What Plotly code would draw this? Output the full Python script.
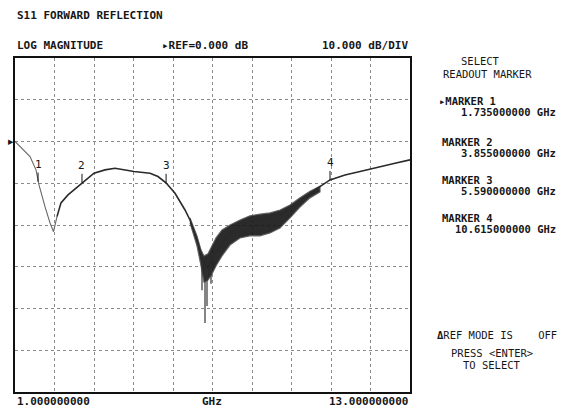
import plotly.graph_objects as go

# ---- data ----
trace_ghz = [1.000, 1.456, 1.638, 1.729, 1.911, 2.063, 2.170, 2.276, 2.397, 2.610,
             3.035, 3.400, 3.734, 4.038, 4.615, 5.101, 5.344, 5.587, 5.861, 6.165,
             6.316, 6.529, 6.711, 6.802, 6.924, 7.076, 7.228, 7.380, 7.684, 7.987,
             8.291, 8.595, 9.051, 9.506, 9.810, 10.114, 10.570, 11.025, 11.481,
             12.089, 12.544, 13.000]
trace_db = [0.0, -3.6, -6.8, -10.4, -15.6, -19.5, -21.6, -18.0, -14.7, -12.8,
            -9.9, -7.6, -6.8, -6.4, -7.2, -7.6, -8.4, -9.9, -12.4, -16.4,
            -18.8, -23.6, -28.4, -29.8, -29.1, -26.7, -25.2, -22.8, -21.2, -19.5,
            -18.8, -18.3, -17.6, -15.6, -13.5, -11.6, -9.2, -8.0, -7.2,
            -6.0, -5.2, -4.4]
faint_points = 8  # first points of the sweep are drawn fainter

# noisy band (upper / lower envelope) in the 6.3 - 10.3 GHz region
band_ghz = [6.316, 6.529, 6.651, 6.742, 6.863, 6.985, 7.106, 7.289, 7.532, 7.836,
            8.139, 8.443, 8.747, 9.051, 9.354, 9.658, 9.962, 10.266]
band_upper_db = [-18.3, -22.6, -26.0, -27.4, -26.9, -24.8, -23.1, -21.2, -20.0, -18.8,
                 -17.8, -17.4, -17.1, -16.4, -15.2, -13.5, -11.9, -10.7]
band_lower_db = [-19.5, -25.0, -29.8, -33.7, -33.2, -31.7, -29.8, -27.4, -24.8, -23.1,
                 -22.6, -22.6, -21.9, -20.7, -18.3, -15.7, -13.5, -12.1]

# deep spikes near the minimum
spike_ghz = [6.681, 6.772, 6.833, 6.954]
spike_top_db = [-29.0, -30.8, -30.5, -30.0]
spike_bottom_db = [-35.6, -43.5, -39.4, -34.1]

# markers
marker_names = ["1", "2", "3", "4"]
marker_readout_ghz = [1.735, 3.855, 5.590, 10.615]
marker_drawn_ghz = [1.700, 3.035, 5.590, 10.570]
marker_drawn_db = [-9.6, -9.9, -9.9, -9.2]

x_start_ghz, x_stop_ghz = 1.0, 13.0
ref_db = 0.0
db_per_div = 10.0
y_top_db, y_bottom_db = 20.0, -60.0

# ---- figure ----
W, H = 566, 412
L, R, T, B = 15, 410, 58, 392

def P(x, y):
    return (x - L) / (R - L), (B - y) / (B - T)

FONT = "DejaVu Sans Mono"
INK = "#161616"

fig = go.Figure()

fig.add_trace(go.Scatter(
    x=band_ghz + band_ghz[::-1],
    y=band_upper_db + band_lower_db[::-1],
    fill="toself", fillcolor="rgba(20,20,20,0.9)",
    line=dict(color="rgba(90,90,90,0.9)", width=1.2),
    mode="lines", hoverinfo="skip", showlegend=False))

sx, sy = [], []
for f, t, b in zip(spike_ghz, spike_top_db, spike_bottom_db):
    sx += [f, f, None]
    sy += [t, b, None]
fig.add_trace(go.Scatter(x=sx, y=sy, mode="lines",
                         line=dict(color="#333", width=1.2),
                         hoverinfo="skip", showlegend=False))

fig.add_trace(go.Scatter(x=trace_ghz[:faint_points], y=trace_db[:faint_points],
                         mode="lines", line=dict(color="#666", width=1.1),
                         showlegend=False))
fig.add_trace(go.Scatter(x=trace_ghz[faint_points - 1:], y=trace_db[faint_points - 1:],
                         mode="lines", line=dict(color="#2a2a2a", width=1.6),
                         showlegend=False))

# marker labels on the trace
for name, f, d in zip(marker_names, marker_drawn_ghz, marker_drawn_db):
    fig.add_annotation(x=f, y=d, text=name, showarrow=True, arrowhead=0,
                       arrowwidth=1, arrowcolor=INK, ax=0, ay=-9,
                       font=dict(family=FONT, size=11, color=INK),
                       yanchor="bottom")

# reference pointer
fig.add_annotation(xref="paper", yref="y", x=P(11, 0)[0], y=ref_db, text="▸",
                   showarrow=False, font=dict(family="DejaVu Sans", size=11, color=INK),
                   xanchor="center", yanchor="middle")

def txt(x, y, s, anchor="left", size=11):
    px, py = P(x, y)
    fig.add_annotation(xref="paper", yref="paper", x=px, y=py, text=s,
                       showarrow=False, xanchor=anchor, yanchor="middle",
                       font=dict(family=FONT, size=size, color=INK))

txt(15, 15, "<b>S11 FORWARD REFLECTION</b>")
txt(15, 46, "<b>LOG MAGNITUDE</b>")
txt(160, 46, "<b>▸REF=%.3f dB</b>" % ref_db)
txt(410, 46, "<b>%.3f dB/DIV</b>" % db_per_div, "right")

txt(480, 61, "SELECT", "center", 10.5)
txt(487, 74, "READOUT MARKER", "center", 10.5)
marker_y = [101, 142, 180, 218]
for i, (name, f) in enumerate(zip(marker_names, marker_readout_ghz)):
    y0 = marker_y[i]
    txt(437 if i == 0 else 440, y0, "<b>%sMARKER %s</b>" % ("▸" if i == 0 else "", name), "left", 10.5)
    txt(558, y0 + 11, "<b>%.9f GHz</b>" % f, "right", 10.5)

txt(435, 335, "<b>Δ</b>REF MODE IS    OFF", "left", 10.5)
txt(492, 353, "PRESS &lt;ENTER&gt;", "center", 10.5)
txt(492, 365, "TO SELECT", "center", 10.5)

txt(15, 401, "<b>%.9f</b>" % x_start_ghz)
txt(212, 401, "<b>GHz</b>", "center")
txt(410, 401, "<b>%.9f</b>" % x_stop_ghz, "right")

fig.update_layout(
    width=W, height=H,
    margin=dict(l=L, r=W - R, t=T, b=H - B, pad=0),
    paper_bgcolor="white", plot_bgcolor="white",
    xaxis=dict(range=[x_start_ghz, x_stop_ghz], dtick=(x_stop_ghz - x_start_ghz) / 10,
               tick0=x_start_ghz, showticklabels=False, ticks="",
               showgrid=True, gridcolor="#8a8a8a", griddash="dot", gridwidth=1,
               showline=True, mirror=True, linecolor="#111", linewidth=2,
               zeroline=False, fixedrange=True),
    yaxis=dict(range=[y_bottom_db, y_top_db], dtick=db_per_div, tick0=y_bottom_db,
               showticklabels=False, ticks="",
               showgrid=True, gridcolor="#8a8a8a", griddash="dot", gridwidth=1,
               showline=True, mirror=True, linecolor="#111", linewidth=2,
               zeroline=False, fixedrange=True),
)

fig.write_html("out.html", config={"staticPlot": True},
               post_script="document.body.style.margin='0';document.body.style.overflow='hidden';")
